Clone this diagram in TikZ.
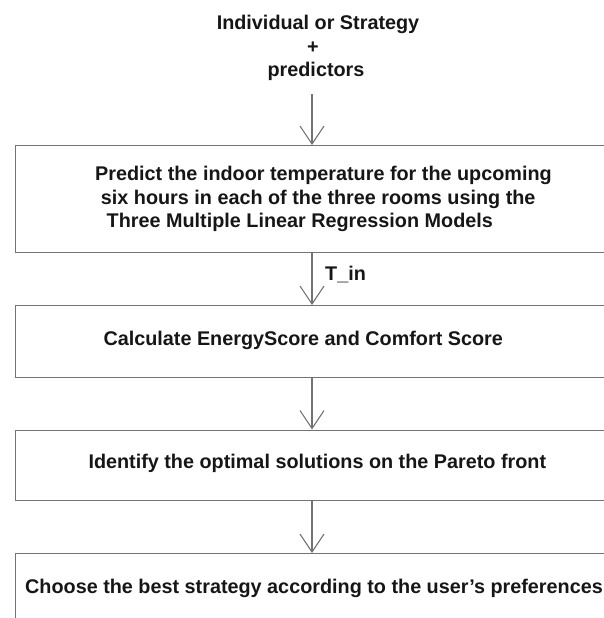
\documentclass[tikz,border=0pt]{standalone}
\usepackage{fontspec}
\setmainfont{Liberation Sans}
\usetikzlibrary{arrows.meta}
\definecolor{linegray}{RGB}{115,115,115}
\definecolor{txt}{RGB}{22,22,22}
\begin{document}
\begin{tikzpicture}[x=1pt,y=-1pt,
  box/.style={draw=linegray, line width=1.1pt, rectangle, inner sep=0pt, anchor=north west, minimum width=660pt},
  lbl/.style={font=\fontsize{19.8}{23.3}\selectfont\bfseries, text=txt, inner sep=0pt, anchor=base west},
  ctr/.style={font=\fontsize{19.8}{23.3}\selectfont\bfseries, text=txt, inner sep=0pt, anchor=base},
  arr/.style={draw=linegray, line width=1.1pt, -{Straight Barb[length=18pt,width=24pt,line width=1.1pt]}}]
\clip (0,0) rectangle (604,618);
% title
\node[ctr] (t1) at (318,30) {Individual or Strategy};
\node[ctr] (t2) at (313,53) {+};
\node[ctr] (t3) at (316,76) {predictors};
\coordinate (in) at (312,94);
% boxes
\node[box, minimum height=107pt] (b1) at (15,145) {};
\node[box, minimum height=71.5pt] (b2) at (15,305) {};
\node[box, minimum height=70pt] (b3) at (15,429.5) {};
\node[box, minimum height=120pt] (b4) at (15,553) {};
% box texts
\node[lbl] (l1a) at (95,180.7) {Predict the indoor temperature for the upcoming};
\node[lbl] (l1b) at (100.7,204) {six hours in each of the three rooms using the};
\node[lbl] (l1c) at (106.5,227.3) {Three Multiple Linear Regression Models};
\node[lbl] (l2) at (103.3,345) {Calculate EnergyScore and Comfort Score};
\node[lbl] (l3) at (88.3,468.3) {Identify the optimal solutions on the Pareto front};
\node[lbl] (l4) at (25,593.3) {Choose the best strategy according to the user’s preferences};
% arrows
\draw[arr] (in) -- (in |- b1.north);
\draw[arr] (b1.south -| in) -- (b2.north -| in);
\draw[arr] (b2.south -| in) -- (b3.north -| in);
\draw[arr] (b3.south -| in) -- (b4.north -| in);
\node[lbl] (tin) at (325,280.7) {T\_in};
\end{tikzpicture}
\end{document}
